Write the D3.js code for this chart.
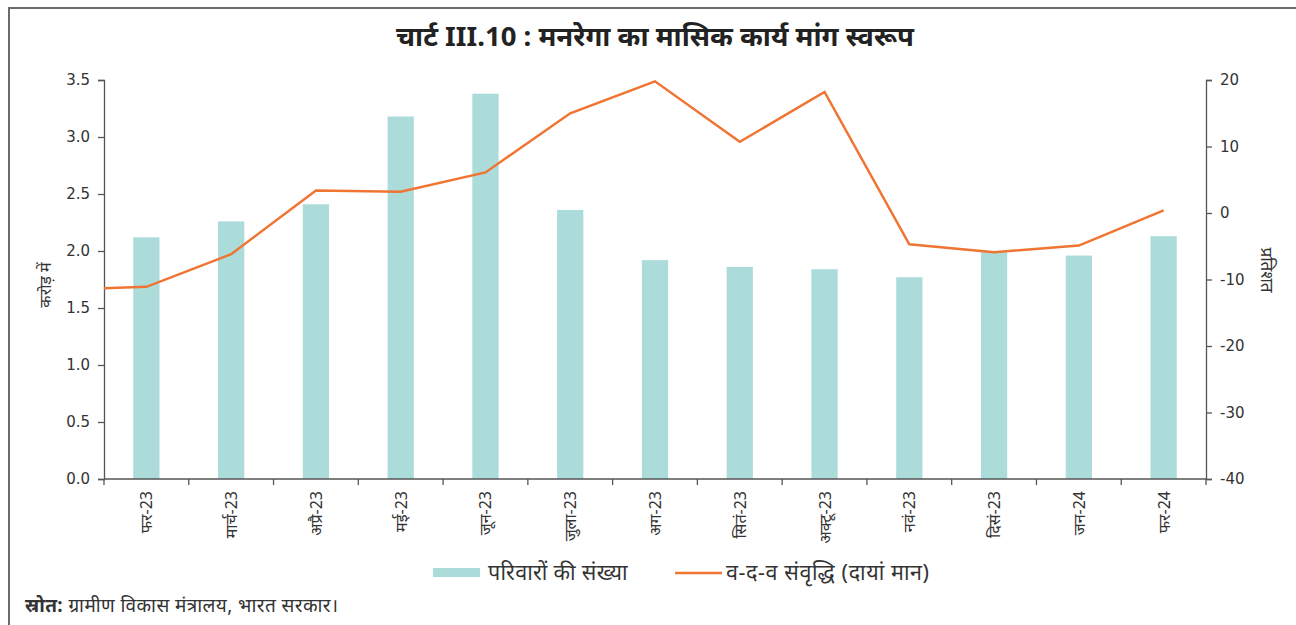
<!DOCTYPE html>
<html>
<head>
<meta charset="utf-8">
<script src="https://cdn.jsdelivr.net/npm/d3@7"></script>
<style>
  body { margin: 0; background: #fff; }
  text { font-family: "Noto Sans", "Noto Sans Devanagari", "DejaVu Sans", sans-serif; }
</style>
</head>
<body>
<div id="chart"></div>
<script>
//----------------------------------------------------------------
// données du graphique
var months = ["फर-23", "मार्च-23", "अप्रै-23", "मई-23", "जून-23", "जुला-23", "अग-23",
              "सितं-23", "अक्टू-23", "नवं-23", "दिसं-23", "जन-24", "फर-24"];
var households = [2.12, 2.26, 2.41, 3.18, 3.38, 2.36, 1.92, 1.86, 1.84, 1.77, 1.99, 1.96, 2.13];
var yoyGrowth = [-11.1, -6.2, 3.4, 3.2, 6.1, 15.0, 19.8, 10.7, 18.2, -4.7, -5.9, -4.9, 0.4];
var yoyStart = -11.3; // la ligne part de l'axe gauche
var leftTicks = [0, 0.5, 1.0, 1.5, 2.0, 2.5, 3.0, 3.5];
var rightTicks = [-40, -30, -20, -10, 0, 10, 20];

var largeur = 1296, hauteur = 625;
var plot = { left: 104, right: 1206, top: 80, bottom: 479 };
var axisColor = "#555";

var svg = d3.select("#chart")
  .append("svg")
  .attr("width", largeur)
  .attr("height", hauteur);

// cadre
svg.append("path")
  .attr("d", "M9,625 V8 H1296")
  .attr("fill", "none")
  .attr("stroke", "#6b6b6b")
  .attr("stroke-width", 2);

// titre
svg.append("text")
  .attr("x", 655).attr("y", 46)
  .attr("text-anchor", "middle")
  .style("font-size", "27.5px")
  .style("font-weight", "bold")
  .attr("fill", "#222")
  .text("चार्ट III.10 : मनरेगा का मासिक कार्य मांग स्वरूप");

//----------------------------------------------------------------
// échelles
var x = d3.scaleBand().domain(months).range([plot.left, plot.right]).padding(0);
var yLeft = d3.scaleLinear().domain([0, 3.5]).range([plot.bottom, plot.top]);
var yRight = d3.scaleLinear().domain([-40, 20]).range([plot.bottom, plot.top]);
var barW = x.bandwidth() * 0.31;

// barres
svg.selectAll(".bar")
  .data(households)
  .enter()
  .append("rect")
  .attr("class", "bar")
  .attr("x", function(d, i) { return x(months[i]) + x.bandwidth() / 2 - barW / 2; })
  .attr("y", function(d) { return yLeft(d); })
  .attr("width", barW)
  .attr("height", function(d) { return yLeft(0) - yLeft(d); })
  .attr("fill", "#acdcda");

//----------------------------------------------------------------
// axes
var axeGauche = svg.append("g")
  .attr("transform", "translate(" + plot.left + ",0)")
  .call(d3.axisLeft(yLeft).tickValues(leftTicks).tickFormat(d3.format(".1f")).tickSize(6).tickPadding(8));

var axeDroit = svg.append("g")
  .attr("transform", "translate(" + plot.right + ",0)")
  .call(d3.axisRight(yRight).tickValues(rightTicks)
    .tickFormat(function(d) { return String(d); }).tickSize(6).tickPadding(8));

var boundaries = months.map(function(m) { return x(m); }).concat([plot.right]);
var axeBas = svg.append("g")
  .attr("transform", "translate(0," + plot.bottom + ")");
axeBas.append("line")
  .attr("x1", plot.left).attr("x2", plot.right)
  .attr("stroke", axisColor).attr("stroke-width", 1.3);
axeBas.selectAll(".tk")
  .data(boundaries)
  .enter()
  .append("line")
  .attr("x1", function(d) { return d; })
  .attr("x2", function(d) { return d; })
  .attr("y1", 0).attr("y2", 6)
  .attr("stroke", axisColor).attr("stroke-width", 1.3);
axeBas.selectAll(".lbl")
  .data(months)
  .enter()
  .append("text")
  .attr("transform", function(d) {
    return "translate(" + (x(d) + x.bandwidth() / 2 + 6) + ",12) rotate(-90)";
  })
  .attr("text-anchor", "end")
  .style("font-size", "16px")
  .attr("fill", "#333")
  .text(function(d) { return d; });

[axeGauche, axeDroit].forEach(function(a) {
  a.select(".domain").attr("stroke", axisColor).attr("stroke-width", 1.3);
  a.selectAll(".tick line").attr("stroke", axisColor).attr("stroke-width", 1.3);
  a.selectAll(".tick text")
    .style("font-size", "15px")
    .style("font-family", "'DejaVu Sans', sans-serif")
    .attr("fill", "#333");
});

// titres des axes
svg.append("text")
  .attr("transform", "translate(51,285) rotate(-90)")
  .attr("text-anchor", "middle")
  .style("font-size", "16px")
  .attr("fill", "#333")
  .text("करोड़ में");
svg.append("text")
  .attr("transform", "translate(1261,270) rotate(90)")
  .attr("text-anchor", "middle")
  .style("font-size", "17px")
  .attr("fill", "#333")
  .text("प्रतिशत");

//----------------------------------------------------------------
// ligne de croissance (axe droit)
var pts = [[plot.left, yRight(yoyStart)]].concat(
  yoyGrowth.map(function(d, i) { return [x(months[i]) + x.bandwidth() / 2, yRight(d)]; })
);
svg.append("path")
  .attr("d", d3.line()(pts))
  .attr("fill", "none")
  .attr("stroke", "#f07432")
  .attr("stroke-width", 2.5)
  .attr("stroke-linejoin", "miter");

//----------------------------------------------------------------
// légende
var leg = svg.append("g");
leg.append("rect")
  .attr("x", 433).attr("y", 568).attr("width", 47).attr("height", 9)
  .attr("fill", "#acdcda");
leg.append("text")
  .attr("x", 488).attr("y", 580)
  .style("font-size", "21.5px").attr("fill", "#333")
  .style("letter-spacing", "0.3px")
  .text("परिवारों की संख्या");
leg.append("line")
  .attr("x1", 675).attr("x2", 722).attr("y1", 573).attr("y2", 573)
  .attr("stroke", "#f07432").attr("stroke-width", 2.5);
leg.append("text")
  .attr("x", 726).attr("y", 580)
  .style("font-size", "21.5px").attr("fill", "#333")
  .style("letter-spacing", "0.6px")
  .text("व-द-व संवृद्धि (दायां मान)");

// source
var src = svg.append("text")
  .attr("x", 25).attr("y", 612)
  .style("font-size", "19px").attr("fill", "#333")
  .style("letter-spacing", "0.4px");
src.append("tspan").style("font-weight", "bold").text("स्रोत:");
src.append("tspan").text(" ग्रामीण विकास मंत्रालय, भारत सरकार।");
</script>
</body>
</html>
